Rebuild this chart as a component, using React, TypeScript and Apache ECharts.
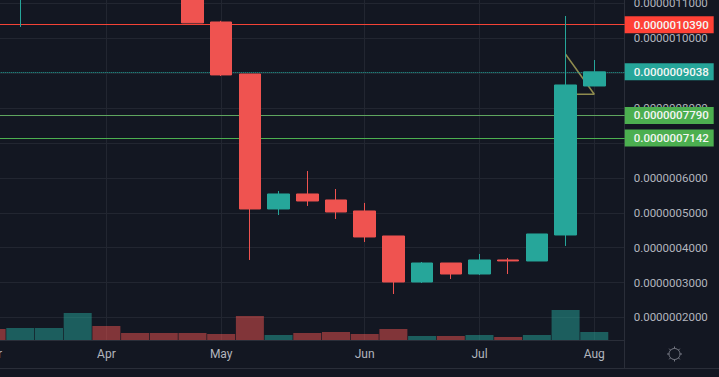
import React, { useEffect, useRef } from "react";
import * as echarts from "echarts";

const monthTickIndex = [-1, 3, 7, 12, 16, 20];
const monthLabels = ["Mar", "Apr", "May", "Jun", "Jul", "Aug"];
const priceTicks = [0.0000002, 0.0000003, 0.0000004, 0.0000005, 0.0000006, 0.0000007, 0.0000008, 0.0000009, 0.000001, 0.0000011];
const priceLabels = [0.0000002, 0.0000003, 0.0000004, 0.0000005, 0.0000006, 0.0000008, 0.000001, 0.0000011];

const candleIndex = [0, 6, 7, 8, 9, 10, 11, 12, 13, 14, 15, 16, 17, 18, 19, 20];
const opens = [0.00000112, 0.00000116, 0.0000010467, 0.0000008977, 0.0000005109, 0.0000005539, 0.0000005367, 0.0000005052, 0.0000004335, 0.0000003017, 0.0000003561, 0.0000003246, 0.0000003648, 0.0000003619, 0.0000004364, 0.0000008633];
const closes = [0.00000116, 0.000001044, 0.000000895, 0.0000005109, 0.0000005539, 0.0000005338, 0.0000005023, 0.0000004307, 0.0000003017, 0.0000003561, 0.0000003246, 0.0000003648, 0.000000362, 0.0000004393, 0.0000008662, 0.0000009038];
const lows = [0.0000010324, 0.000001044, 0.000000892, 0.0000003648, 0.0000004937, 0.0000005195, 0.0000004822, 0.0000004163, 0.0000002673, 0.0000002989, 0.0000003103, 0.0000003218, 0.0000003246, 0.0000003619, 0.0000004049, 0.0000008633];
const highs = [0.00000119, 0.00000116, 0.00000105, 0.0000008977, 0.0000005625, 0.0000006198, 0.0000005682, 0.0000005282, 0.0000004335, 0.000000359, 0.0000003561, 0.0000003819, 0.0000003705, 0.0000004393, 0.0000010639, 0.0000009378];

const volumeIndex = [-1, 0, 1, 2, 3, 4, 5, 6, 7, 8, 9, 10, 11, 12, 13, 14, 15, 16, 17, 18, 19, 20];
const volumes = [11, 12, 12, 27, 14, 7, 7, 7, 6, 24, 5, 7, 8, 6, 11, 4, 4, 5, 3, 5, 30, 8];
const volumeUp = [false, true, true, true, false, false, false, false, false, false, true, false, false, false, false, true, false, true, false, true, true, true];

const resistanceLevel = 0.000001039;
const supportHigh = 0.000000779;
const supportLow = 0.0000007142;
const lastPrice = 0.0000009038;
const annotationX = [19, 20, 19];
const annotationY = [0.0000009541, 0.0000008396, 0.0000008396];

const UP = "#26A69A";
const DOWN = "#EF5350";
const BG = "#131722";
const GRID = "#222631";
const BORDER = "#2A2E39";
const TEXT = "#B2B5BE";
const FONT = "Roboto";

const level = (value: number, color: string, type: string, labelColor: string) => ({
  yAxis: value,
  lineStyle: { color, width: 1, type },
  label: {
    show: true,
    position: "end" as const,
    distance: 0,
    formatter: () => value.toFixed(10),
    backgroundColor: labelColor,
    color: "#F4F6F4",
    fontFamily: FONT,
    fontSize: 11.5,
    fontWeight: 500,
    width: 80,
    height: 17,
    lineHeight: 17,
    padding: [0, 0, 0, 9],
    align: "left" as const,
  },
});

const gearSpokes = [0, 45, 90, 135, 180, 225, 270, 315].map((deg) => {
  const a = (deg * Math.PI) / 180;
  return {
    type: "line",
    shape: { x1: 674.5 + Math.cos(a) * 5.5, y1: 354 + Math.sin(a) * 5.5, x2: 674.5 + Math.cos(a) * 7.5, y2: 354 + Math.sin(a) * 7.5 },
    style: { stroke: "#787B86", lineWidth: 1 },
  };
});

export default function App() {
  const ref = useRef<HTMLDivElement>(null);
  useEffect(() => {
    document.body.style.margin = "0";
    document.body.style.background = BG;
    const chart = echarts.init(ref.current!, undefined, { renderer: "svg" });
    chart.setOption({
      animation: false,
      backgroundColor: BG,
      grid: { left: -28.7, right: 94.3, top: 0, height: 340, containLabel: false, outerBoundsMode: "none" },
      xAxis: {
        type: "value",
        min: -1.707,
        max: 21.06,
        axisLine: { show: true, onZero: false, lineStyle: { color: BORDER } },
        axisTick: { show: false, customValues: monthTickIndex },
        axisLabel: {
          customValues: monthTickIndex,
          formatter: (v: number) => monthLabels[monthTickIndex.indexOf(v)] ?? "",
          color: TEXT,
          fontFamily: FONT,
          fontSize: 12,
          margin: 8,
        },
        splitLine: { show: true, lineStyle: { color: GRID, width: 1 } },
      },
      yAxis: [
        {
          type: "value",
          position: "right",
          min: 0.0000001355,
          max: 0.0000011097,
          axisLine: { show: true, onZero: false, lineStyle: { color: BORDER } },
          axisTick: { show: false, customValues: priceTicks },
          axisLabel: {
            customValues: priceLabels,
            formatter: (v: number) => v.toFixed(10),
            color: TEXT,
            fontFamily: FONT,
            fontSize: 11.5,
            margin: 9,
          },
          splitLine: { show: true, lineStyle: { color: GRID, width: 1 } },
        },
        { type: "value", show: false, min: 0, max: 340, splitLine: { show: false } },
      ],
      series: [
        {
          type: "bar",
          yAxisIndex: 1,
          barWidth: 28,
          z: 1,
          data: volumeIndex.map((x, i) => ({
            value: [x, volumes[i]],
            itemStyle: { color: volumeUp[i] ? "rgba(38,166,154,0.5)" : "rgba(239,83,80,0.5)" },
          })),
        },
        {
          type: "line",
          z: 1,
          symbol: "none",
          lineStyle: { color: "#8F8B4E", width: 1.5 },
          data: annotationX.map((x, i) => [x, annotationY[i]]),
          markLine: {
            symbol: "none",
            silent: true,
            animation: false,
            precision: 12,
            z: 2,
            data: [
              level(resistanceLevel, "#F44336", "solid", "#FF4136"),
              level(supportHigh, "#5FA55F", "solid", "#4CAF50"),
              level(supportLow, "#4CAF50", "solid", "#4CAF50"),
              level(lastPrice, UP, "dotted", UP),
            ],
          },
        },
        {
          type: "candlestick",
          barWidth: 22,
          z: 3,
          encode: { x: 0, y: [1, 2, 3, 4] },
          itemStyle: { color: UP, color0: DOWN, borderColor: UP, borderColor0: DOWN, borderWidth: 1 },
          data: candleIndex.map((x, i) => [x, opens[i], closes[i], lows[i], highs[i]]),
        },
      ],
      graphic: [
        { type: "line", shape: { x1: 0, y1: 368.5, x2: 719, y2: 368.5 }, style: { stroke: BORDER, lineWidth: 1 } },
        { type: "line", shape: { x1: 624.5, y1: 340, x2: 624.5, y2: 368 }, style: { stroke: BORDER, lineWidth: 1 } },
        { type: "circle", shape: { cx: 674.5, cy: 354, r: 5.5 }, style: { fill: "none", stroke: "#787B86", lineWidth: 1 } },
        ...gearSpokes,
      ],
    });
    return () => chart.dispose();
  }, []);
  return <div ref={ref} style={{ width: 719, height: 377 }} />;
}
